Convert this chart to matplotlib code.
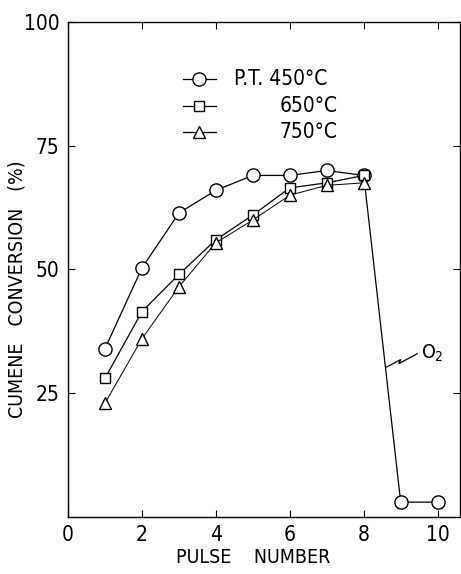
import numpy as np
import matplotlib
matplotlib.use("Agg")
import matplotlib.pyplot as plt

plt.rcParams['font.family'] = ['DejaVu Sans']
plt.rcParams['font.stretch'] = 'condensed'

# pulse numbers and cumene conversion (%)
pulse_450 = [1, 2, 3, 4, 5, 6, 7, 8, 9, 10]
conv_450 = [34, 50.3, 61.4, 66, 69, 69, 70, 69, 3, 3]
pulse_650 = [1, 2, 3, 4, 5, 6, 7, 8]
conv_650 = [28, 41.5, 49, 56, 61, 66.5, 67.5, 69]
pulse_750 = [1, 2, 3, 4, 5, 6, 7, 8]
conv_750 = [23, 36, 46.5, 55.4, 60, 65, 67, 67.5]

labels = ["P.T. 450°C", "650°C", "750°C"]

fig = plt.figure(figsize=(4.61, 5.74), dpi=100)
ax = fig.add_axes([0.1475, 0.0993, 0.85, 0.8624])

ax.plot(pulse_450, conv_450, color='black', lw=0.9, marker='o', ms=9.5,
        mfc='white', mec='black', mew=1.0, zorder=3)
ax.plot(pulse_650, conv_650, color='black', lw=0.9, marker='s', ms=7.5,
        mfc='white', mec='black', mew=1.0, zorder=3)
ax.plot(pulse_750, conv_750, color='black', lw=0.7, marker='^', ms=9,
        mfc='white', mec='black', mew=1.0, zorder=3)

ax.set_xlim(0, 10.6)
ax.set_ylim(0, 100)
ax.set_xticks([0, 2, 4, 6, 8, 10])
ax.set_yticks([25, 50, 75, 100])
ax.tick_params(direction='in', top=True, right=True, length=5, width=0.8,
               labelsize=15, pad=6)
for s in ax.spines.values():
    s.set_linewidth(1.0)

# legend drawn by hand
leg_y = [88.5, 83, 77.8]
markers = [('o', 9.5), ('s', 7.5), ('^', 9)]
for yy, (m, ms) in zip(leg_y, markers):
    ax.plot([3.1, 4.0], [yy, yy], color='black', lw=0.9)
    ax.plot([3.55], [yy], marker=m, ms=ms, mfc='white', mec='black', mew=1.0)
ax.text(4.5, leg_y[0], labels[0], fontsize=15, va='center', ha='left')
ax.text(7.3, leg_y[1], labels[1], fontsize=15, va='center', ha='right')
ax.text(7.3, leg_y[2], labels[2], fontsize=15, va='center', ha='right')

# O2 annotation with zigzag
zx = [8.62, 9.0, 8.95, 9.45]
zy = [30.3, 31.8, 31.0, 33.0]
ax.plot(zx, zy, color='black', lw=0.9)
ax.text(9.55, 33.0, "O$_2$", fontsize=14, va='center', ha='left')

ax.set_xlabel("PULSE    NUMBER", fontsize=14)
ax.xaxis.set_label_coords(0.472, -0.062)
ax.set_ylabel("CUMENE   CONVERSION   (%)", fontsize=14)
ax.yaxis.set_label_coords(-0.105, 0.46)

fig.savefig("out.png", dpi=100)
